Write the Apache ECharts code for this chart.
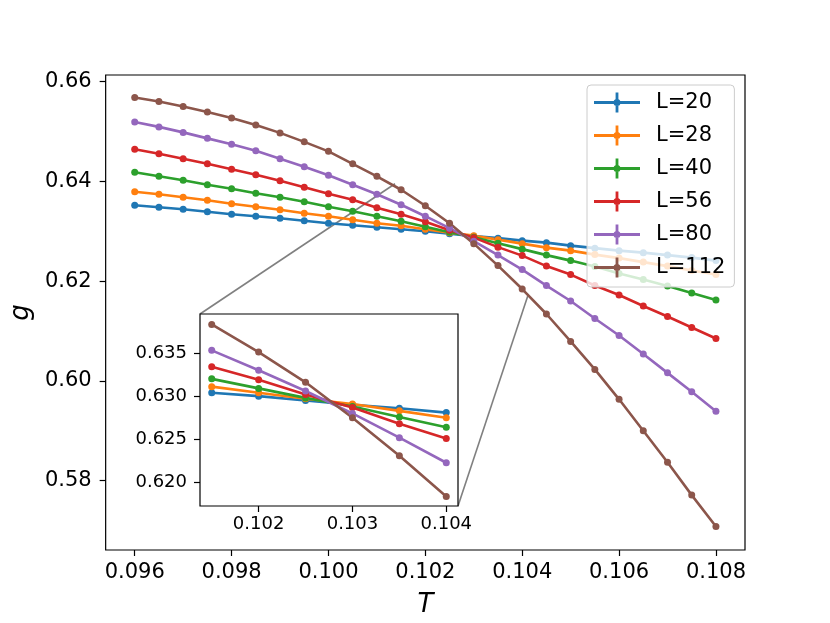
<!DOCTYPE html>
<html>
<head>
<meta charset="utf-8">
<script src="https://cdn.jsdelivr.net/npm/echarts@6/dist/echarts.min.js"></script>
<style>
html, body { margin: 0; padding: 0; background: #fff; }
#main { width: 830px; height: 623px; }
</style>
</head>
<body>
<div id="main"></div>
<script>
// temperatures T (0.096 .. 0.108, step 0.0005)
var temps = [0.0960, 0.0965, 0.0970, 0.0975, 0.0980, 0.0985, 0.0990, 0.0995, 0.1000, 0.1005,
	0.1010, 0.1015, 0.1020, 0.1025, 0.1030, 0.1035, 0.1040, 0.1045, 0.1050, 0.1055,
	0.1060, 0.1065, 0.1070, 0.1075, 0.1080];

var sizes = ["L=20", "L=28", "L=40", "L=56", "L=80", "L=112"];
var colors = ["#1f77b4", "#ff7f0e", "#2ca02c", "#d62728", "#9467bd", "#8c564b"];

var gL20 = [0.6352, 0.6348, 0.6344, 0.6339, 0.6334, 0.6330, 0.6326, 0.6321, 0.6316, 0.6312,
	0.6308, 0.6304, 0.6300, 0.6295, 0.6290, 0.6286, 0.6281, 0.6277, 0.6271, 0.6266,
	0.6261, 0.6257, 0.6252, 0.6247, 0.6241];
var gL28 = [0.6379, 0.6374, 0.6368, 0.6362, 0.6355, 0.6349, 0.6343, 0.6336, 0.6330, 0.6323,
	0.6316, 0.6311, 0.6304, 0.6297, 0.6291, 0.6283, 0.6275, 0.6267, 0.6261, 0.6253,
	0.6246, 0.6238, 0.6230, 0.6221, 0.6213];
var gL40 = [0.6418, 0.6410, 0.6402, 0.6393, 0.6385, 0.6376, 0.6368, 0.6359, 0.6349, 0.6340,
	0.6330, 0.6320, 0.6309, 0.6298, 0.6288, 0.6276, 0.6264, 0.6252, 0.6241, 0.6229,
	0.6215, 0.6203, 0.6190, 0.6176, 0.6162];
var gL56 = [0.6464, 0.6455, 0.6445, 0.6435, 0.6424, 0.6413, 0.6401, 0.6388, 0.6375, 0.6363,
	0.6347, 0.6334, 0.6319, 0.6302, 0.6287, 0.6268, 0.6251, 0.6230, 0.6213, 0.6191,
	0.6172, 0.6150, 0.6129, 0.6107, 0.6085];
var gL80 = [0.6519, 0.6509, 0.6498, 0.6486, 0.6474, 0.6461, 0.6445, 0.6429, 0.6412, 0.6393,
	0.6374, 0.6353, 0.6330, 0.6306, 0.6280, 0.6252, 0.6223, 0.6191, 0.6160, 0.6125,
	0.6091, 0.6054, 0.6016, 0.5978, 0.5939];
var gL112 = [0.6568, 0.6560, 0.6550, 0.6539, 0.6527, 0.6513, 0.6497, 0.6479, 0.6460, 0.6435,
	0.6410, 0.6383, 0.6351, 0.6316, 0.6275, 0.6231, 0.6184, 0.6134, 0.6079, 0.6023,
	0.5963, 0.5900, 0.5837, 0.5771, 0.5708];

var allG = [gL20, gL28, gL40, gL56, gL80, gL112];

// main axes ticks
var xTicks = [0.096, 0.098, 0.100, 0.102, 0.104, 0.106, 0.108];
var yTicks = [0.58, 0.60, 0.62, 0.64, 0.66];
// inset: indices of points shown and ticks
var insetFrom = 11, insetTo = 16;
var insetXTicks = [0.102, 0.103, 0.104];
var insetYTicks = [0.620, 0.625, 0.630, 0.635];

// main range (5% margins like matplotlib)
var xMin = 0.0954, xMax = 0.1086;
var yMin = 0.5661, yMax = 0.6613;
var inXMin = 0.101375, inXMax = 0.104125;
var inYMin = 0.6173, inYMax = 0.6395;

var font = "DejaVu Sans";

function pairs(ys, from, to) {
	var out = [];
	for (var i = from; i <= to; i++) {
		out.push([temps[i], ys[i]]);
	}
	return out;
}

function makeAxis(grid, min, max, ticks, digits, size, margin) {
	return {
		type: "value",
		gridIndex: grid,
		min: min,
		max: max,
		splitLine: { show: false },
		axisLine: { show: false },
		axisTick: { show: true, customValues: ticks, length: 6, lineStyle: { color: "#000", width: 1.2 } },
		axisLabel: {
			customValues: ticks,
			color: "#000",
			fontFamily: font,
			fontSize: size,
			margin: margin,
			formatter: function (v) { return v.toFixed(digits); }
		}
	};
}

var series = [];
for (var s = 0; s < sizes.length; s++) {
	var base = {
		name: sizes[s],
		type: "line",
		symbol: "circle",
		symbolSize: 7,
		color: colors[s],
		lineStyle: { width: 2.6 },
		itemStyle: { color: colors[s] },
		animation: false,
		silent: true
	};
	series.push(Object.assign({}, base, {
		xAxisIndex: 0, yAxisIndex: 0,
		data: pairs(allG[s], 0, temps.length - 1)
	}));
	series.push(Object.assign({}, base, {
		xAxisIndex: 1, yAxisIndex: 1,
		data: pairs(allG[s], insetFrom, insetTo)
	}));
}

var xMain = makeAxis(0, xMin, xMax, xTicks, 3, 21, 12);
xMain.name = "T";
xMain.nameLocation = "middle";
xMain.nameGap = 42;
xMain.nameTextStyle = { fontFamily: font, fontStyle: "italic", fontSize: 26, color: "#000" };

var yMain = makeAxis(0, yMin, yMax, yTicks, 2, 21, 14);
yMain.name = "g";
yMain.nameLocation = "middle";
yMain.nameGap = 64;
yMain.nameRotate = 90;
yMain.nameTextStyle = { fontFamily: font, fontStyle: "italic", fontSize: 26, color: "#000" };

var legendIcon = "path://M0,8.6h46v2.8h-46z M21.6,0h2.8v20h-2.8z M19.5,10a3.5,3.5 0 1,1 7,0a3.5,3.5 0 1,1 -7,0z";

var chart = echarts.init(document.getElementById("main"), null, { renderer: "canvas" });
chart.setOption({
	animation: false,
	backgroundColor: "#fff",
	grid: [
		{ left: 104, right: 85, top: 75, bottom: 69, show: true, borderColor: "#000", borderWidth: 1.2, backgroundColor: "#fff" },
		{ left: 200, top: 314, width: 258, height: 192, show: true, borderColor: "#000", borderWidth: 1.2, backgroundColor: "#fff", z: 3 }
	],
	xAxis: [xMain, makeAxis(1, inXMin, inXMax, insetXTicks, 3, 18, 9)],
	yAxis: [yMain, makeAxis(1, inYMin, inYMax, insetYTicks, 3, 18, 13)],
	legend: {
		data: sizes,
		orient: "vertical",
		left: 587,
		top: 85,
		padding: [7, 9, 9, 7],
		itemGap: 12,
		itemWidth: 46,
		itemHeight: 20,
		icon: legendIcon,
		backgroundColor: "rgba(255,255,255,0.8)",
		borderColor: "#cccccc",
		borderWidth: 1,
		borderRadius: 4,
		selectedMode: false,
		textStyle: { fontFamily: font, fontSize: 21, color: "#000", padding: [0, 0, 0, 11] }
	},
	series: series
});

// connector lines between the zoomed region and the inset corners
var a1 = chart.convertToPixel({ gridIndex: 0 }, [inXMin, inYMax]);
var b1 = chart.convertToPixel({ gridIndex: 1 }, [inXMin, inYMax]);
var a2 = chart.convertToPixel({ gridIndex: 0 }, [inXMax, inYMin]);
var b2 = chart.convertToPixel({ gridIndex: 1 }, [inXMax, inYMin]);
chart.setOption({
	graphic: [
		{ type: "line", z: 1, shape: { x1: a1[0], y1: a1[1], x2: b1[0], y2: b1[1] }, style: { stroke: "#808080", lineWidth: 1.6 }, silent: true },
		{ type: "line", z: 1, shape: { x1: a2[0], y1: a2[1], x2: b2[0], y2: b2[1] }, style: { stroke: "#808080", lineWidth: 1.6 }, silent: true }
	]
});
</script>
</body>
</html>
